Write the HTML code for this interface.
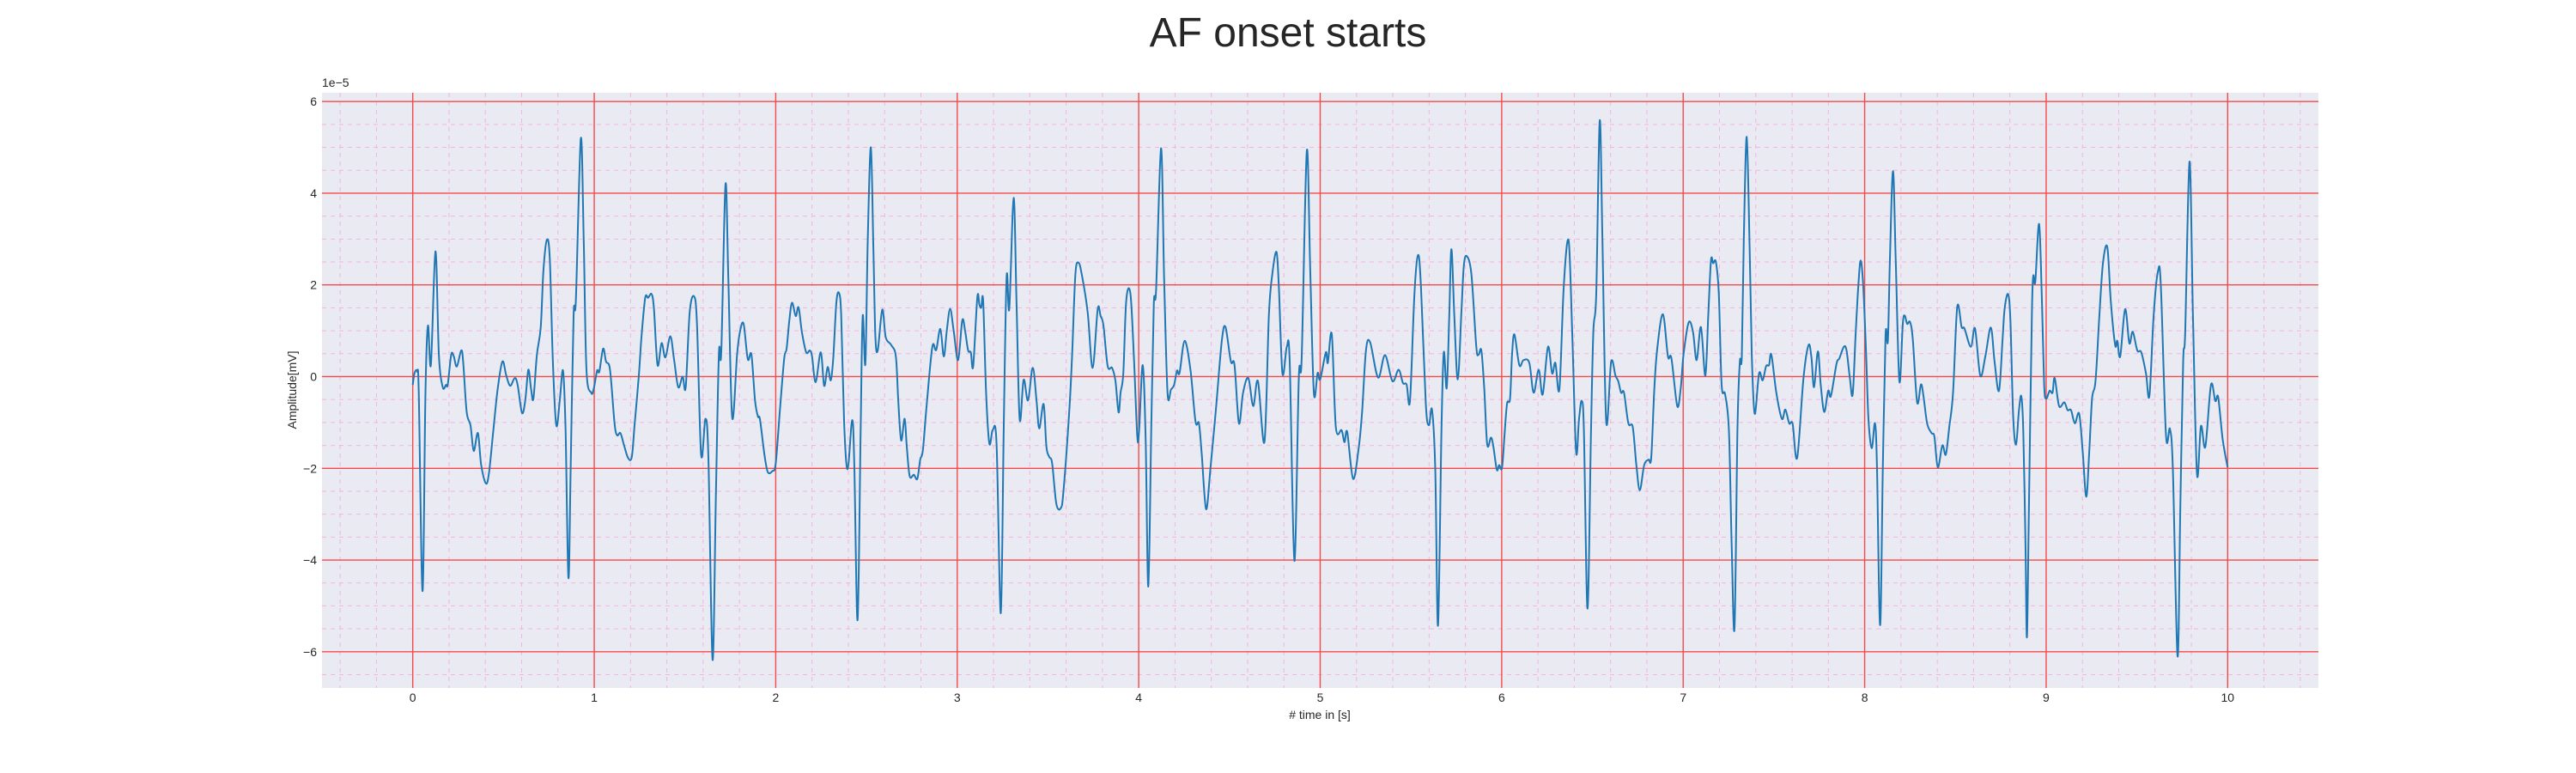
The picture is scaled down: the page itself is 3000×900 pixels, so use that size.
<!DOCTYPE html>
<html><head><meta charset="utf-8"><title>AF onset starts</title>
<style>
html,body{margin:0;padding:0;background:#fff;}
svg{display:block;font-family:"Liberation Sans",Arial,sans-serif;}
</style></head>
<body>
<svg id="chart" width="3000" height="900" viewBox="0 0 3000 900" xmlns="http://www.w3.org/2000/svg">
<text x="1500" y="54" text-anchor="middle" font-size="48" fill="#262626">AF onset starts</text>
<rect x="375" y="108" width="2325" height="693" fill="#eaeaf2"/>
<g id="grid"></g>
<g id="ticks"></g>
<path id="trace" fill="none" stroke="#1f77b4" stroke-width="2" stroke-linejoin="round"/>
<text x="375" y="101" font-size="14" fill="#262626">1e−5</text>
<text x="1537" y="837" text-anchor="middle" font-size="14" fill="#262626"># time in [s]</text>
<text transform="translate(345,454) rotate(-90)" text-anchor="middle" font-size="14" fill="#262626">Amplitude[mV]</text>
</svg>
<script>
const times = [0,0.01,0.025,0.033,0.054,0.07,0.084,0.1,0.125,0.144,0.165,0.183,0.193,0.212,0.226,0.243,0.267,0.278,0.297,0.318,0.336,0.359,0.377,0.403,0.42,0.444,0.468,0.494,0.515,0.537,0.562,0.578,0.602,0.62,0.637,0.652,0.665,0.684,0.705,0.72,0.739,0.755,0.772,0.791,0.81,0.828,0.842,0.858,0.87,0.886,0.899,0.926,0.942,0.957,0.983,0.997,1.016,1.028,1.049,1.065,1.087,1.112,1.126,1.144,1.163,1.186,1.207,1.223,1.245,1.261,1.281,1.297,1.316,1.329,1.349,1.371,1.392,1.419,1.439,1.463,1.487,1.504,1.526,1.55,1.566,1.589,1.613,1.629,1.652,1.671,1.687,1.7,1.723,1.739,1.76,1.787,1.803,1.823,1.846,1.866,1.886,1.902,1.913,1.937,1.956,1.981,2.0,2.024,2.047,2.06,2.075,2.09,2.11,2.126,2.144,2.168,2.188,2.2,2.22,2.248,2.267,2.286,2.303,2.317,2.334,2.349,2.361,2.377,2.396,2.421,2.433,2.451,2.468,2.479,2.494,2.507,2.524,2.538,2.549,2.562,2.587,2.606,2.636,2.662,2.675,2.691,2.71,2.722,2.738,2.761,2.78,2.796,2.811,2.832,2.863,2.884,2.907,2.926,2.942,2.961,2.981,3.005,3.028,3.044,3.06,3.075,3.088,3.111,3.122,3.132,3.143,3.159,3.177,3.196,3.217,3.24,3.256,3.272,3.287,3.311,3.327,3.344,3.366,3.39,3.416,3.437,3.452,3.476,3.491,3.507,3.523,3.546,3.57,3.585,3.617,3.633,3.651,3.669,3.688,3.719,3.746,3.774,3.79,3.806,3.829,3.853,3.872,3.889,3.9,3.915,3.931,3.954,3.973,3.992,4.002,4.022,4.038,4.053,4.069,4.083,4.096,4.123,4.14,4.159,4.178,4.195,4.211,4.225,4.253,4.285,4.313,4.332,4.347,4.371,4.395,4.426,4.458,4.478,4.508,4.528,4.552,4.575,4.604,4.631,4.657,4.693,4.717,4.736,4.759,4.772,4.792,4.816,4.832,4.858,4.882,4.898,4.926,4.945,4.965,4.986,5.0,5.031,5.042,5.064,5.086,5.118,5.134,5.149,5.181,5.212,5.231,5.252,5.275,5.319,5.357,5.398,5.432,5.456,5.476,5.495,5.519,5.539,5.555,5.582,5.599,5.616,5.634,5.649,5.668,5.681,5.697,5.711,5.723,5.739,5.758,5.778,5.791,5.807,5.833,5.86,5.873,5.888,5.904,5.92,5.941,5.954,5.973,5.986,6.002,6.017,6.03,6.046,6.057,6.07,6.097,6.12,6.152,6.176,6.204,6.226,6.255,6.278,6.296,6.318,6.342,6.369,6.389,6.41,6.426,6.441,6.453,6.473,6.492,6.505,6.521,6.54,6.555,6.576,6.603,6.627,6.642,6.658,6.674,6.698,6.722,6.742,6.761,6.785,6.809,6.824,6.84,6.856,6.888,6.916,6.935,6.967,6.986,7.002,7.03,7.054,7.074,7.098,7.122,7.138,7.153,7.165,7.18,7.196,7.212,7.231,7.252,7.267,7.283,7.299,7.312,7.323,7.334,7.35,7.366,7.378,7.394,7.418,7.438,7.457,7.473,7.486,7.513,7.544,7.563,7.584,7.603,7.628,7.663,7.691,7.707,7.721,7.742,7.758,7.777,7.799,7.814,7.845,7.861,7.885,7.9,7.918,7.934,7.95,7.965,7.978,7.992,8.008,8.021,8.039,8.057,8.068,8.085,8.1,8.115,8.128,8.139,8.156,8.171,8.191,8.21,8.221,8.234,8.25,8.265,8.289,8.31,8.324,8.344,8.368,8.384,8.403,8.428,8.447,8.466,8.487,8.51,8.534,8.55,8.585,8.608,8.637,8.665,8.695,8.716,8.74,8.76,8.771,8.79,8.803,8.818,8.834,8.85,8.863,8.874,8.886,8.894,8.905,8.921,8.929,8.94,8.961,8.976,8.989,9.0,9.019,9.035,9.047,9.071,9.1,9.118,9.137,9.158,9.182,9.202,9.221,9.237,9.253,9.272,9.293,9.313,9.337,9.356,9.38,9.392,9.408,9.435,9.458,9.477,9.502,9.524,9.55,9.569,9.592,9.616,9.632,9.66,9.682,9.698,9.724,9.739,9.755,9.766,9.79,9.809,9.831,9.853,9.877,9.908,9.932,9.948,9.972,10.0];
const amplitudes = [-0.18,0.08,0.11,-0.35,-4.68,-0.35,1.11,0.26,2.73,0.48,-0.23,-0.18,-0.17,0.48,0.44,0.22,0.57,0.32,-0.77,-1.06,-1.62,-1.23,-1.93,-2.33,-2.1,-1.18,-0.27,0.33,0.03,-0.2,-0.03,-0.18,-0.79,-0.52,0.15,-0.27,-0.48,0.48,1.07,2.32,2.98,2.57,0.32,-1.06,-0.52,0.13,-1.18,-4.39,-2.0,1.32,1.69,5.19,2.98,0.15,-0.35,-0.27,0.13,0.11,0.61,0.33,0.15,-1.02,-1.28,-1.23,-1.48,-1.77,-1.75,-1.02,-0.02,0.9,1.72,1.72,1.8,1.48,0.25,0.73,0.42,0.88,0.4,-0.23,0,-0.23,1.4,1.75,1.15,-1.7,-0.92,-1.77,-6.18,-2.43,0.52,0.55,4.19,2.15,-0.89,0.48,0.98,1.15,0.38,0.48,-0.52,-0.87,-0.93,-1.68,-2.08,-2.06,-1.89,-0.68,0.4,0.61,1.23,1.61,1.32,1.51,0.98,0.53,0.57,0.44,-0.12,0.53,-0.2,0.21,-0.08,0.4,1.61,1.82,1.32,-1.02,-2.02,-0.95,-1.93,-5.31,-1.18,1.32,0.28,2.98,5.0,2.82,0.9,0.57,1.46,0.86,0.69,0.44,-0.52,-1.39,-0.92,-1.52,-2.17,-2.14,-2.23,-1.81,-1.6,-0.6,0.65,0.58,1.04,0.44,0.98,1.48,0.98,0.36,1.23,0.98,0.57,0.53,0.23,1.73,1.57,1.5,1.65,-0.35,-1.46,-1.16,-1.48,-5.16,-1.18,2.17,1.48,3.9,1.57,-0.93,-0.07,-0.52,0.19,-0.52,-1.13,-0.6,-1.52,-1.75,-1.89,-2.77,-2.87,-2.52,-0.77,0.48,2.23,2.48,2.19,1.4,0.19,1.47,1.32,1.11,0.23,0.19,-0.1,-0.78,-0.35,0.07,1.65,1.82,0.48,-1.28,-1.18,0.25,-1.35,-4.58,-1.18,1.57,1.9,4.98,2.15,-0.35,-0.28,-0.18,0.13,0.08,0.78,0.15,-0.98,-1.02,-1.68,-2.89,-2.02,-0.68,0.78,1.08,0.33,0.25,-1.02,-0.35,-0.03,-0.64,-0.1,-1.42,1.32,2.23,2.72,1.98,0.07,0.65,0.32,-4.02,-0.02,0.4,4.92,2.32,-0.35,0.08,-0.06,0.53,0.3,0.92,-1.1,-1.17,-1.43,-1.21,-2.23,-1.56,-0.77,0.57,0.75,-0.02,0.47,-0.1,0.15,-0.14,-0.17,-0.52,1.78,2.65,1.98,-0.6,-1.06,-0.72,-2.02,-5.43,-1.18,0.53,-0.25,1.32,2.78,1.32,-0.06,1.4,2.4,2.63,2.23,0.65,0.48,0.57,-0.27,-1.48,-1.33,-1.52,-2.03,-1.93,-1.98,-1.18,-0.58,-0.48,0.48,0.92,0.25,0.36,0.3,-0.35,0.15,-0.39,0.65,0.07,0.3,-0.27,1.98,2.96,0.9,-1.64,-0.93,-0.53,-1.18,-5.06,-1.18,0.98,1.82,5.58,2.98,-0.98,0.32,0.02,-0.1,-0.35,-0.35,-1.02,-1.1,-1.93,-2.48,-1.93,-1.81,-1.77,-0.35,0.57,1.36,0.44,0.4,-0.64,-0.27,0.48,1.18,0.98,0.36,1.08,0.02,1.32,2.53,2.47,2.5,1.82,-0.18,-0.39,-1.18,-3.68,-5.48,-1.18,0.32,0.44,2.98,5.23,2.82,0.48,-0.81,0.07,-0.08,0.23,0.25,0.48,-0.35,-0.92,-0.72,-1.02,-1.03,-1.77,-0.02,0.69,0.4,-0.23,0.55,-0.18,-0.77,-0.31,-0.42,0.28,0.4,0.65,0.57,-0.02,-0.39,0.9,1.98,2.53,1.98,0.48,-0.93,-1.56,-1.02,-2.02,-5.42,-2.02,0.9,0.78,2.57,4.48,2.57,-0.1,1.15,1.33,1.15,1.19,0.82,-0.56,-0.17,-0.43,-1.02,-1.23,-1.31,-1.98,-1.5,-1.7,-1.1,-0.35,1.52,1.08,1.05,0.65,1.05,0.02,0.44,1.07,0.32,-0.31,0.82,1.48,1.8,1.23,-0.85,-1.48,-0.73,-0.43,-1.18,-3.68,-5.68,-2.85,1.32,2.19,2.07,3.33,1.73,-0.18,-0.48,-0.31,-0.35,-0.03,-0.64,-0.56,-0.73,-0.73,-1.02,-0.81,-1.68,-2.62,-1.68,-0.48,-0.1,1.32,2.48,2.82,1.65,0.69,0.78,0.44,1.47,0.73,0.98,0.57,0.53,0.07,-0.42,1.32,2.3,1.98,-1.27,-1.14,-2.02,-6.1,-2.85,0.32,0.98,4.69,1.32,-2.12,-1.08,-1.53,-0.18,-0.53,-0.45,-1.35,-1.98];
const xTickLabels = ["0","1","2","3","4","5","6","7","8","9","10"];
const yTickLabels = ["−6","−4","−2","0","2","4","6"];
const xTickValues = [0,1,2,3,4,5,6,7,8,9,10];
const yTickValues = [-6,-4,-2,0,2,4,6];

const NS = "http://www.w3.org/2000/svg";
const L = 375, R = 2700, T = 108, B = 801;
const xMin = -0.5, xMax = 10.5, yMin = -6.79, yMax = 6.19;
function xs(v){ return L + (v - xMin) / (xMax - xMin) * (R - L); }
function ys(v){ return B - (v - yMin) / (yMax - yMin) * (B - T); }

const grid = document.getElementById('grid');
const ticks = document.getElementById('ticks');
function mk(tag, attrs, parent){
  const e = document.createElementNS(NS, tag);
  for (const k in attrs) e.setAttribute(k, attrs[k]);
  parent.appendChild(e);
  return e;
}
for (let i = -2; i <= 52; i++) {
  const v = i * 0.2;
  if (v < xMin || v > xMax || i % 5 === 0) continue;
  const ln = mk('line', {x1: xs(v), x2: xs(v), y1: T, y2: B, stroke: '#f5b3e0', 'stroke-width': 1, 'stroke-dasharray': '5,5'}, grid);
  
  
}
for (let i = -14; i <= 13; i++) {
  const v = i * 0.5;
  if (v < yMin || v > yMax || i % 4 === 0) continue;
  const ln = mk('line', {x1: L, x2: R, y1: ys(v), y2: ys(v), stroke: '#f5b3e0', 'stroke-width': 1, 'stroke-dasharray': '5,5'}, grid);
  
  
}
xTickValues.forEach((v, i) => {
  const ln = mk('line', {x1: xs(v), x2: xs(v), y1: T, y2: B, stroke: '#f44a4a', 'stroke-width': 1.4}, grid);
  
  
  const t = mk('text', {x: xs(v), y: 817, 'text-anchor': 'middle', 'font-size': 14, fill: '#262626'}, ticks);
  t.textContent = xTickLabels[i];
  
  
});
yTickValues.forEach((v, i) => {
  const ln = mk('line', {x1: L, x2: R, y1: ys(v), y2: ys(v), stroke: '#f44a4a', 'stroke-width': 1.4}, grid);
  
  
  const t = mk('text', {x: 369, y: ys(v) + 5, 'text-anchor': 'end', 'font-size': 14, fill: '#262626'}, ticks);
  t.textContent = yTickLabels[i];
  
  
});
// smooth trace (Catmull-Rom through read points)
const P = times.map((t, i) => [xs(t), ys(amplitudes[i])]);
let d = 'M' + P[0][0].toFixed(1) + ',' + P[0][1].toFixed(1);
for (let i = 0; i < P.length - 1; i++) {
  const p0 = P[Math.max(0, i - 1)], p1 = P[i], p2 = P[i + 1], p3 = P[Math.min(P.length - 1, i + 2)];
  const k = 1 / 6;
  const c1x = p1[0] + (p2[0] - p0[0]) * k, c1y = p1[1] + (p2[1] - p0[1]) * k;
  const c2x = p2[0] - (p3[0] - p1[0]) * k, c2y = p2[1] - (p3[1] - p1[1]) * k;
  d += 'C' + c1x.toFixed(1) + ',' + c1y.toFixed(1) + ' ' + c2x.toFixed(1) + ',' + c2y.toFixed(1) + ' ' + p2[0].toFixed(1) + ',' + p2[1].toFixed(1);
}
document.getElementById('trace').setAttribute('d', d);
</script>
</body></html>
